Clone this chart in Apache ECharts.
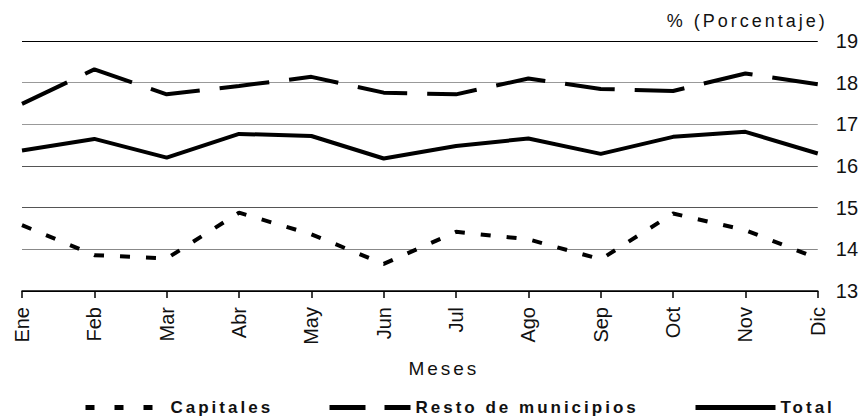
<!DOCTYPE html>
<html>
<head>
<meta charset="utf-8">
<script src="https://cdn.jsdelivr.net/npm/echarts@6/dist/echarts.min.js"></script>
<style>
  html, body { margin: 0; padding: 0; background: #fff; }
  #main { width: 861px; height: 416px; }
</style>
</head>
<body>
<div id="main"></div>
<script>
var meses = ['Ene', 'Feb', 'Mar', 'Abr', 'May', 'Jun', 'Jul', 'Ago', 'Sep', 'Oct', 'Nov', 'Dic'];
var capitales = [14.58, 13.86, 13.78, 14.88, 14.36, 13.65, 14.42, 14.24, 13.76, 14.86, 14.46, 13.78];
var resto = [17.49, 18.32, 17.72, 17.92, 18.14, 17.76, 17.72, 18.10, 17.85, 17.80, 18.22, 17.96];
var total = [16.37, 16.65, 16.20, 16.77, 16.72, 16.18, 16.48, 16.66, 16.29, 16.70, 16.82, 16.30];

// texts drawn with wide letter spacing in the original
var spaced = ['Meses', '% (Porcentaje)', 'Capitales', 'Resto de municipios', 'Total'];

var chart = echarts.init(document.getElementById('main'), null, { renderer: 'svg' });
var font = 'Liberation Sans, Arial, sans-serif';

function legendBox(name, left, width, dash) {
  return {
    data: [{ name: name, lineStyle: { width: 5, type: dash } }],
    left: left,
    top: 399,
    padding: 0,
    itemWidth: width,
    itemHeight: 14,
    itemStyle: { opacity: 0 },
    textStyle: { fontFamily: font, fontSize: 17, fontWeight: 'bold', color: '#111' }
  };
}

var option = {
  animation: false,
  backgroundColor: '#fff',
  textStyle: { fontFamily: font, color: '#111' },
  grid: { left: 22, right: 43, top: 41, bottom: 125 },
  legend: [
    legendBox('Capitales', 83, 80, [9, 20]),
    legendBox('Resto de municipios', 327, 81, [36, 19]),
    legendBox('Total', 693, 80, 'solid')
  ],
  xAxis: {
    type: 'category',
    data: meses,
    boundaryGap: false,
    name: 'Meses',
    nameLocation: 'middle',
    nameGap: 68,
    nameTextStyle: { fontSize: 19, color: '#111', padding: [0, 0, 0, 48] },
    axisLine: { lineStyle: { color: '#000', width: 1.5 } },
    axisTick: { show: true, length: 7, lineStyle: { color: '#000', width: 1.5 } },
    axisLabel: { rotate: 90, fontSize: 20, color: '#111', margin: 16 },
    splitLine: { show: false }
  },
  yAxis: {
    type: 'value',
    position: 'right',
    min: 13,
    max: 19,
    interval: 1,
    name: '% (Porcentaje)',
    nameLocation: 'end',
    nameGap: 11,
    nameTextStyle: { fontSize: 18, color: '#111', align: 'right', padding: [0, -10, 0, 0] },
    axisLine: { show: false },
    axisTick: { show: false },
    axisLabel: { fontSize: 20, color: '#111', margin: 18 },
    splitLine: { lineStyle: { color: ['#000', '#888', '#555', '#555', '#999', '#999', '#000'], width: 1.2 } }
  },
  series: [
    {
      name: 'Capitales',
      type: 'line',
      data: capitales,
      symbol: 'none',
      lineStyle: { color: '#000', width: 4, type: [10, 16] },
      itemStyle: { color: '#000' }
    },
    {
      name: 'Resto de municipios',
      type: 'line',
      data: resto,
      symbol: 'none',
      lineStyle: { color: '#000', width: 4, type: [50, 20] },
      itemStyle: { color: '#000' }
    },
    {
      name: 'Total',
      type: 'line',
      data: total,
      symbol: 'none',
      lineStyle: { color: '#000', width: 4 },
      itemStyle: { color: '#000' }
    }
  ]
};

function spaceOut() {
  var texts = document.querySelectorAll('#main text');
  for (var i = 0; i < texts.length; i++) {
    if (spaced.indexOf(texts[i].textContent) >= 0) {
      texts[i].style.letterSpacing = '3px';
    }
  }
}

chart.on('finished', spaceOut);
chart.setOption(option);
spaceOut();
</script>
</body>
</html>
